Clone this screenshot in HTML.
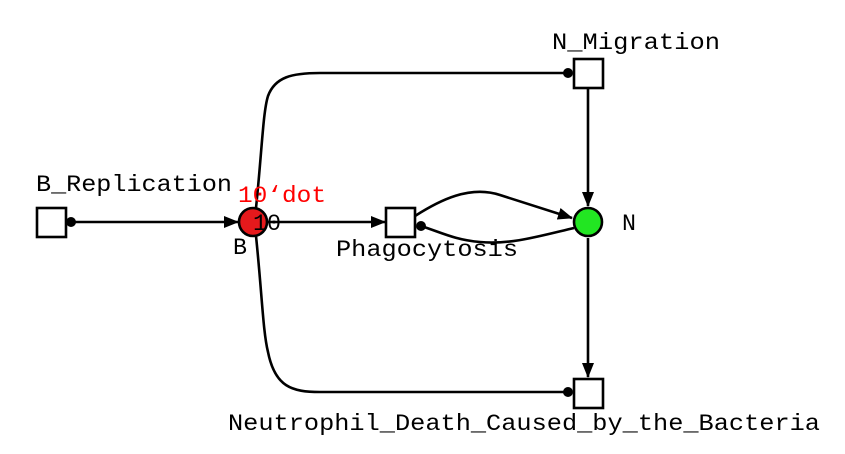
<!DOCTYPE html>
<html><head><meta charset="utf-8"><style>
html,body{margin:0;padding:0;background:#fff;}
svg{display:block;}
text{font-family:"Liberation Mono",monospace;font-size:23px;fill:#000;}
</style></head><body>
<svg width="845" height="454" viewBox="0 0 845 454" xmlns="http://www.w3.org/2000/svg">
<defs>
<marker id="ar" markerWidth="15" markerHeight="12" refX="14" refY="6" orient="auto" markerUnits="userSpaceOnUse">
<path d="M0,0 L15,6 L0,12 Z" fill="#000"/></marker>
</defs>
<g fill="none" stroke="#000" stroke-width="2.6">
<path d="M70,222 L238,222" marker-end="url(#ar)"/>
<path d="M268,222 L385,222" marker-end="url(#ar)"/>
<path d="M256,208 C262,150 263,112 268,96 C275,77 292,73 320,73 L566,73"/>
<path d="M256,236 C262,294 263,332 268,352 C275,387 292,392 320,392 L566,392"/>
<path d="M415,216 C440,200 470,185 500,195 L572,218" marker-end="url(#ar)"/>
<path d="M574,228 C540,236 510,245 480,242 C455,240 440,232 421,226"/>
<path d="M588,88 L588,206" marker-end="url(#ar)"/>
<path d="M588,238 L588,377" marker-end="url(#ar)"/>
</g>
<g fill="#000">
<circle cx="71" cy="222" r="5"/>
<circle cx="568" cy="73" r="5"/>
<circle cx="568" cy="392" r="5"/>
<circle cx="421" cy="226" r="5"/>
</g>
<g fill="#fff" stroke="#000" stroke-width="2.6">
<rect x="37" y="208" width="29" height="29"/>
<rect x="386" y="208" width="29" height="29"/>
<rect x="574" y="59" width="29" height="29"/>
<rect x="574" y="379" width="29" height="29"/>
</g>
<circle cx="253" cy="222" r="14" fill="#e5191c" stroke="#000" stroke-width="2.6"/>
<circle cx="588" cy="222" r="14" fill="#22e622" stroke="#000" stroke-width="2.6"/>
<text x="36" y="191" textLength="196" lengthAdjust="spacingAndGlyphs">B_Replication</text>
<text x="238" y="202" textLength="88" lengthAdjust="spacingAndGlyphs" style="fill:#ff0000">10‘dot</text>
<text x="253" y="230" textLength="28" lengthAdjust="spacingAndGlyphs">10</text>
<text x="233" y="254" textLength="14" lengthAdjust="spacingAndGlyphs">B</text>
<text x="336" y="256" textLength="182" lengthAdjust="spacingAndGlyphs">Phagocytosis</text>
<text x="552" y="49" textLength="168" lengthAdjust="spacingAndGlyphs">N_Migration</text>
<text x="622" y="230" textLength="14" lengthAdjust="spacingAndGlyphs">N</text>
<text x="228" y="430" textLength="592" lengthAdjust="spacingAndGlyphs">Neutrophil_Death_Caused_by_the_Bacteria</text>
</svg>
</body></html>
